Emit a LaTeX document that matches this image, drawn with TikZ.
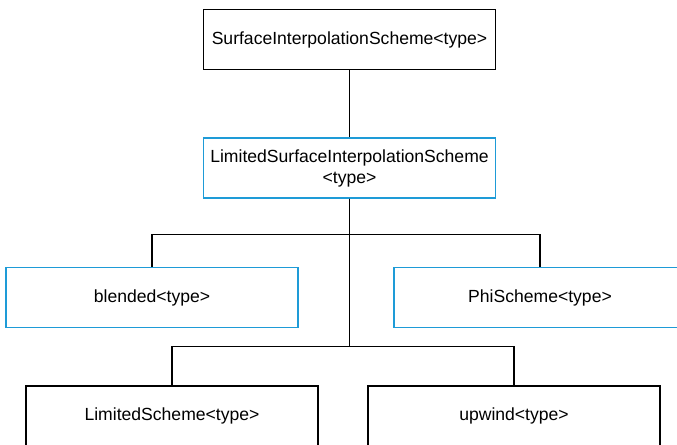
\documentclass[tikz,border=0pt]{standalone}
\usepackage{xcolor}
\usepackage{fontspec}
\setmainfont{Liberation Sans}
\usepackage{tikz}
\usetikzlibrary{positioning, calc}

\definecolor{boxblue}{RGB}{30,155,215}

\begin{document}
\begin{tikzpicture}[
    box/.style={rectangle, draw, line width=0.6pt, minimum width=5.84cm, minimum height=1.2cm, text centered, align=center, font=\normalsize},
    bluebox/.style={box, draw=boxblue},
    link/.style={line width=0.6pt}]

\clip (0,0) rectangle (13.54,-8.88);

\node[box] (surf) at (6.99,-0.79) {SurfaceInterpolationScheme<type>};
\node[bluebox] (limsurf) at (6.99,-3.36) {LimitedSurfaceInterpolationScheme\\<type>};

\node[bluebox] (blended) at (3.04,-5.95) {blended<type>};
\node[bluebox] (phi) at (10.80,-5.95) {PhiScheme<type>};

\node[box] (limited) at (3.44,-8.32) {LimitedScheme<type>};
\node[box] (upwind) at (10.28,-8.32) {upwind<type>};

\draw[link] (surf.south) -- (limsurf.north);

\draw[link] (limsurf.south) -- ++(0,-0.72) -| (blended.north);
\draw[link] (limsurf.south) -- ++(0,-0.72) -| (phi.north);

\draw[link] (limsurf.south) -- ++(0,-2.96) -| (limited.north);
\draw[link] (limsurf.south) -- ++(0,-2.96) -| (upwind.north);

\end{tikzpicture}
\end{document}
